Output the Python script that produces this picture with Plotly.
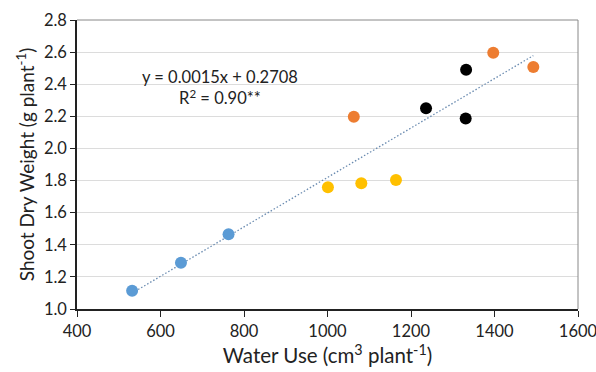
import numpy as np
import plotly.graph_objects as go

# Data
blue_x = [532, 649, 763]
blue_y = [1.114, 1.288, 1.465]
yellow_x = [1001, 1081, 1164]
yellow_y = [1.758, 1.783, 1.803]
orange_x = [1063, 1397, 1493]
orange_y = [2.197, 2.596, 2.507]
black_x = [1236, 1332, 1331]
black_y = [2.250, 2.490, 2.187]

equation_text = "y = 0.0015x + 0.2708<br>R<sup>2</sup> = 0.90**"
x_ticks = [400, 600, 800, 1000, 1200, 1400, 1600]
y_ticks = [1.0, 1.2, 1.4, 1.6, 1.8, 2.0, 2.2, 2.4, 2.6, 2.8]

all_x = np.array(blue_x + yellow_x + orange_x + black_x, dtype=float)
all_y = np.array(blue_y + yellow_y + orange_y + black_y, dtype=float)
slope, intercept = np.polyfit(all_x, all_y, 1)
tx = np.array([all_x.min(), all_x.max()])
ty = slope * tx + intercept

FONT = "Lato, 'Open Sans', sans-serif"

fig = go.Figure()
fig.add_trace(go.Scatter(x=tx, y=ty, mode="lines",
                         line=dict(color="#6a8bb0", width=1.3, dash="1.5px,2px"),
                         showlegend=False, hoverinfo="skip"))
for xs, ys, c in [(blue_x, blue_y, "#5B9BD5"), (yellow_x, yellow_y, "#FFC000"),
                  (orange_x, orange_y, "#ED7D31"), (black_x, black_y, "#000000")]:
    fig.add_trace(go.Scatter(x=xs, y=ys, mode="markers",
                             marker=dict(color=c, size=12, line=dict(width=0)),
                             showlegend=False))

fig.add_annotation(x=742, y=2.38, xref="x", yref="y", text=equation_text,
                   showarrow=False, align="center",
                   font=dict(family=FONT, size=16.5, color="#222"))

fig.update_layout(
    width=596, height=372,
    margin=dict(l=77, r=18, t=20, b=63),
    paper_bgcolor="white", plot_bgcolor="white",
    font=dict(family=FONT, size=16.5, color="#222"),
    xaxis=dict(range=[400, 1600], tickvals=x_ticks, ticks="outside", ticklen=6,
               tickcolor="#222", showgrid=False, zeroline=False,
               showline=True, linecolor="#222", linewidth=1.5, mirror=False,
               tickfont=dict(size=16.5), ticklabeloverflow="allow", automargin=False,
               title=dict(text="Water Use (cm<sup>3</sup> plant<sup>-1</sup>)",
                          font=dict(size=20.5), standoff=3)),
    yaxis=dict(range=[1.0, 2.8], tickvals=y_ticks, tickformat=".1f",
               ticks="outside", ticklen=5, tickcolor="#222",
               showgrid=True, gridcolor="#dcdcdc", gridwidth=1, zeroline=False,
               showline=True, linecolor="#222", linewidth=1.5,
               tickfont=dict(size=16.5), ticklabeloverflow="allow", automargin=False,
               title=dict(text="Shoot Dry Weight (g plant<sup>-1</sup>)",
                          font=dict(size=19), standoff=4)),
)
# top and right border of plot area
fig.add_shape(type="line", xref="paper", yref="paper", x0=0, x1=1, y0=1, y1=1,
              line=dict(color="#888", width=1))
fig.add_shape(type="line", xref="paper", yref="paper", x0=1, x1=1, y0=0, y1=1,
              line=dict(color="#888", width=1))

fig.write_html("out.html", config={"displayModeBar": False},
               post_script="document.body.style.margin='0';document.body.style.overflow='hidden';")
